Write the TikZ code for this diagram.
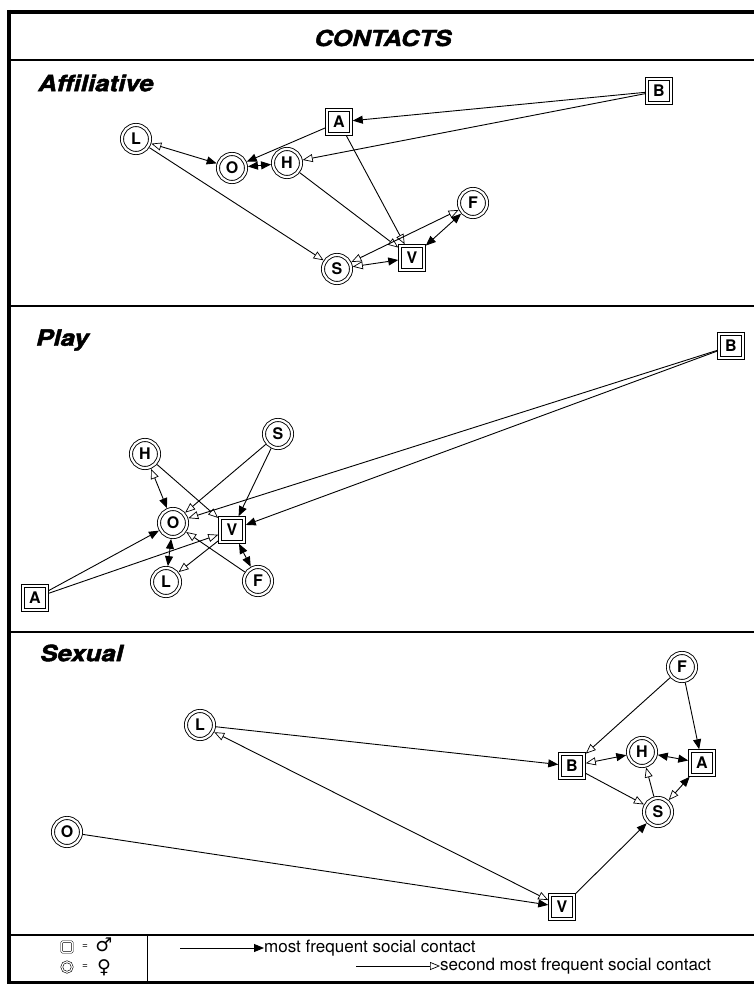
\documentclass[tikz,border=0pt]{standalone}
\usepackage{fontspec}
\setmainfont{TeX Gyre Heros}
\newfontfamily\headfont[UprightFont=*-bolditalic,Extension=.otf,FakeStretch=1.15,FakeBold=2]{texgyreheros}
\newfontfamily\sexfont{DejaVu Sans}
\usetikzlibrary{arrows.meta}
\tikzset{Most/.tip={Triangle[length=10pt,width=8pt]},
	Next/.tip={Triangle[open,length=10pt,width=8pt,line width=0.7pt]}}

\begin{document}
\begin{tikzpicture}[x=1pt,y=1pt]
		\tikzstyle{every node}+=[inner sep=0pt]
		\tikzstyle{ring}=[draw, shape=circle, double, double distance=2.2pt, line width=0.9pt, minimum size=28pt, outer sep=2pt, font=\fontsize{16}{16}\selectfont\bfseries]
		\tikzstyle{box}=[draw, shape=rectangle, double, double distance=2.4pt, line width=0.9pt, minimum size=23.5pt, outer sep=2pt, font=\fontsize{16}{16}\selectfont\bfseries]
		\tikzstyle{link}=[line width=0.9pt]
		\tikzstyle{panel}=[anchor=west, font=\headfont\fontsize{22.5}{22.5}\selectfont]
		\tikzstyle{rule}=[line width=2.5pt]
		\tikzstyle{legend}=[anchor=west, font=\fontsize{17}{17}\selectfont]
		\useasboundingbox (0,0) rectangle (754,-984);
		% frame and panel rules
		\draw [line width=3.5pt] (7,-12) -- (754,-12);
		\draw [line width=4.5pt] (9,-10) -- (9,-983);
		\draw [rule] (9,-60) -- (754,-60);
		\draw [rule] (9,-306) -- (754,-306);
		\draw [rule] (9,-632) -- (754,-632);
		\draw [rule] (9,-935) -- (754,-935);
		\draw [line width=3pt] (7,-982) -- (754,-982);
		\draw [line width=1pt] (147,-935) -- (147,-982);
		\node [font=\headfont\fontsize{22}{22}\selectfont] (title) at (383,-38) {CONTACTS};
		% affiliative
		\node [panel] (affil) at (38,-83) {Affiliative};
		\node [box] (aB) at (659,-91) {B};
		\node [box] (aA) at (339,-122) {A};
		\node [ring] (aL) at (136,-139) {L};
		\node [ring] (aO) at (232,-168) {O};
		\node [ring] (aH) at (287,-163) {H};
		\node [ring] (aF) at (473,-203) {F};
		\node [box] (aV) at (412,-258) {V};
		\node [ring] (aS) at (337,-269) {S};
		\draw [link,-Most] (aB) -- (aA);
		\draw [link,-Next] (aB) -- (aH);
		\draw [link,-Most] (aA) -- (aO);
		\draw [link,-Next] (aA) -- (aV);
		\draw [link,Next-Most] (aL) -- (aO);
		\draw [link,Most-Most] (aO) -- (aH);
		\draw [link,-Next] (aL) -- (aS);
		\draw [link,-Next] (aH) -- (aV);
		\draw [link,Next-Next] (aS) -- (aF);
		\draw [link,Most-Most] (aV) -- (aF);
		\draw [link,Next-Most] (aS) -- (aV);
		% play
		\node [panel] (play) at (36,-340) {Play};
		\node [box] (pB) at (731,-346) {B};
		\node [ring] (pH) at (145,-454) {H};
		\node [ring] (pS) at (278,-434) {S};
		\node [ring] (pO) at (173,-523) {O};
		\node [box] (pV) at (232,-530) {V};
		\node [ring] (pL) at (166,-582) {L};
		\node [ring] (pF) at (258,-581) {F};
		\node [box] (pA) at (35,-598) {A};
		\draw [link,Next-Most] (pH) -- (pO);
		\draw [link,-Next] (pH) -- (pV);
		\draw [link,-Next] (pS) -- (pO);
		\draw [link,-Most] (pS) -- (pV);
		\draw [link,-Next] (pB) -- (pO);
		\draw [link,-Most] (pB) -- (pV);
		\draw [link,-Most] (pA) -- (pO);
		\draw [link,-Next] (pA) -- (pV);
		\draw [link,Most-Most] (pO) -- (pL);
		\draw [link,-Next] (pV) -- (pL);
		\draw [link,-Next] (pF) -- (pO);
		\draw [link,Most-Most] (pV) -- (pF);
		% sexual
		\node [panel] (sexual) at (40,-653) {Sexual};
		\node [ring] (sF) at (682,-667) {F};
		\node [ring] (sL) at (200,-725) {L};
		\node [box] (sB) at (572,-766) {B};
		\node [ring] (sH) at (642,-752) {H};
		\node [box] (sA) at (702,-763) {A};
		\node [ring] (sS) at (658,-812) {S};
		\node [ring] (sO) at (67,-832) {O};
		\node [box] (sV) at (562,-907) {V};
		\draw [link,-Next] (sF) -- (sB);
		\draw [link,-Most] (sF) -- (sA);
		\draw [link,-Most] (sL) -- (sB);
		\draw [link,Next-Most] (sB) -- (sH);
		\draw [link,Most-Most] (sH) -- (sA);
		\draw [link,-Next] (sB) -- (sS);
		\draw [link,-Next] (sS) -- (sH);
		\draw [link,Next-Most] (sS) -- (sA);
		\draw [link,Next-Next] (sL) -- (sV);
		\draw [link,-Most] (sO) -- (sV);
		\draw [link,-Most] (sV) -- (sS);
		% legend
		\node [draw, shape=rectangle, rounded corners=1pt, double, double distance=1.2pt, line width=0.6pt, minimum size=10.5pt] (msym) at (67,-947) {};
		\node [draw, shape=circle, double, double distance=1.2pt, line width=0.6pt, minimum size=10.5pt] (fsym) at (67,-967) {};
		\node [font=\fontsize{10}{10}\selectfont] (meq) at (85,-947) {=};
		\node [font=\fontsize{10}{10}\selectfont] (feq) at (85,-967) {=};
		\node [font=\sexfont\fontsize{19}{19}\selectfont] (msign) at (104,-945) {♂};
		\node [font=\sexfont\fontsize{19}{19}\selectfont] (fsign) at (104,-968) {♀};
		\coordinate (k1) at (180,-948);
		\node [legend] (t1) at (264,-948) {most frequent social contact};
		\draw [link,-Most] (k1) -- (t1.west);
		\coordinate (k2) at (356,-966);
		\node [legend] (t2) at (440,-966) {second most frequent social contact};
		\draw [link,-Next] (k2) -- (t2.west);
	\end{tikzpicture}
\end{document}
